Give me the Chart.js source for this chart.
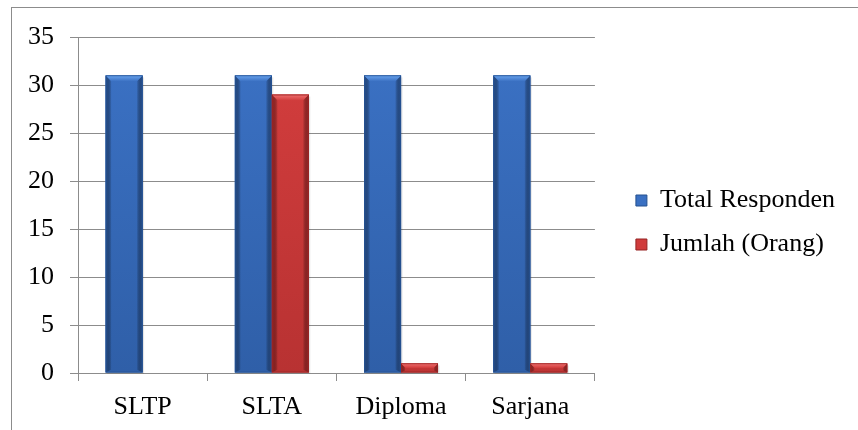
<!DOCTYPE html>
<html>
<head>
<meta charset="utf-8">
<script src="https://cdn.jsdelivr.net/npm/chart.js@4.4.1/dist/chart.umd.min.js"></script>
<style>
  html, body { margin: 0; padding: 0; background: #ffffff; }
  #wrap { position: relative; width: 858px; height: 430px; overflow: hidden; }
  #frame { position: absolute; left: 11px; top: 7px; width: 900px; height: 500px; border: 1px solid #8c8c8c; box-sizing: border-box; }
  canvas { position: absolute; left: 0; top: 0; }
</style>
</head>
<body>
<div id="wrap">
  <div id="frame"></div>
  <canvas id="chart" width="858" height="430"></canvas>
</div>
<script>
// Education levels and respondent counts
const categories = ['SLTP', 'SLTA', 'Diploma', 'Sarjana'];
const totalResponden = [31, 31, 31, 31];
const jumlahOrang = [0, 29, 1, 1];
const yTicks = [0, 5, 10, 15, 20, 25, 30, 35];

const FONT = "'Liberation Serif', 'Times New Roman', serif";

const palette = {
  blue: { main: '#3a70c2', light: '#6aa4ee', dark: '#2a5596', low: '#2f5fa8', edge: '#24508f' },
  red:  { main: '#d03c3c', light: '#f07070', dark: '#a52828', low: '#b83232', edge: '#952323' }
};

// Empty layout boxes: a gap between plot and legend, and extra room above the plot
function spacer(position, size) {
  return {
    position, weight: 500, fullSize: false, options: {},
    width: 0, height: 0, left: 0, top: 0, right: 0, bottom: 0,
    isHorizontal() { return position === 'top' || position === 'bottom'; },
    update(maxWidth, maxHeight) {
      if (this.isHorizontal()) { this.width = maxWidth; this.height = size; }
      else { this.width = size; this.height = maxHeight; }
    },
    draw() {}
  };
}
const spacers = {
  id: 'spacers',
  beforeInit(chart) {
    Chart.layouts.addBox(chart, spacer('right', 23));
    Chart.layouts.addBox(chart, spacer('top', 22));
  }
};

// Bevelled bar faces drawn over each bar element the library lays out
const bevelBars = {
  id: 'bevelBars',
  afterDatasetsDraw(chart) {
    const ctx = chart.ctx;
    chart.data.datasets.forEach((ds, di) => {
      const meta = chart.getDatasetMeta(di);
      const c = palette[ds.tone];
      meta.data.forEach((bar) => {
        const p = bar.getProps(['x', 'y', 'base', 'width'], true);
        const h = p.base - p.y;
        if (h < 0.5) return;
        const x0 = p.x - p.width / 2, x1 = p.x + p.width / 2;
        const bv = Math.min(6, h / 2, p.width / 4);
        ctx.save();
        // soft shadow
        ctx.fillStyle = 'rgba(0,0,0,0.10)';
        ctx.fillRect(x0 + 1.5, p.y + 2, p.width, h - 1);
        // body: vertical shading
        const vg = ctx.createLinearGradient(0, p.y, 0, p.base);
        vg.addColorStop(0, c.main);
        vg.addColorStop(1, c.low);
        ctx.fillStyle = vg;
        ctx.fillRect(x0, p.y, p.width, h);
        // side bevels
        const lg = ctx.createLinearGradient(x0, 0, x0 + bv, 0);
        lg.addColorStop(0, c.dark); lg.addColorStop(1, 'rgba(0,0,0,0)');
        ctx.fillStyle = lg;
        ctx.beginPath();
        ctx.moveTo(x0, p.y); ctx.lineTo(x0 + bv, p.y + bv);
        ctx.lineTo(x0 + bv, p.base - bv * 0.5); ctx.lineTo(x0, p.base);
        ctx.closePath(); ctx.fill();
        const rg = ctx.createLinearGradient(x1, 0, x1 - bv, 0);
        rg.addColorStop(0, c.dark); rg.addColorStop(1, 'rgba(0,0,0,0)');
        ctx.fillStyle = rg;
        ctx.beginPath();
        ctx.moveTo(x1, p.y); ctx.lineTo(x1 - bv, p.y + bv);
        ctx.lineTo(x1 - bv, p.base - bv * 0.5); ctx.lineTo(x1, p.base);
        ctx.closePath(); ctx.fill();
        // top bevel
        const tg = ctx.createLinearGradient(0, p.y, 0, p.y + bv);
        tg.addColorStop(0, c.light);
        tg.addColorStop(1, c.main);
        ctx.fillStyle = tg;
        ctx.beginPath();
        ctx.moveTo(x0, p.y);
        ctx.lineTo(x1, p.y);
        ctx.lineTo(x1 - bv, p.y + bv);
        ctx.lineTo(x0 + bv, p.y + bv);
        ctx.closePath();
        ctx.fill();
        // outline
        ctx.strokeStyle = c.edge;
        ctx.lineWidth = 0.8;
        ctx.strokeRect(x0 + 0.4, p.y + 0.4, p.width - 0.8, h - 0.8);
        ctx.restore();
      });
    });
  }
};

new Chart(document.getElementById('chart'), {
  type: 'bar',
  data: {
    labels: categories,
    datasets: [
      { label: 'Total Responden', data: totalResponden, tone: 'blue',
        backgroundColor: palette.blue.main, borderWidth: 0 },
      { label: 'Jumlah (Orang)', data: jumlahOrang, tone: 'red',
        backgroundColor: palette.red.main, borderWidth: 0 }
    ]
  },
  options: {
    responsive: false,
    animation: false,
    layout: { padding: { left: 0, right: 13, top: 15, bottom: 0 } },
    datasets: { bar: { categoryPercentage: 0.572, barPercentage: 1.0 } },
    plugins: {
      tooltip: { enabled: false },
      legend: {
        position: 'right',
        align: 'center',
        maxWidth: 300,
        labels: {
          color: '#000',
          font: { family: FONT, size: 26 },
          boxWidth: 11,
          boxHeight: 11,
          padding: 18,
          generateLabels(chart) {
            return chart.data.datasets.map((ds, i) => ({
              text: ds.label,
              fillStyle: palette[ds.tone].main,
              strokeStyle: palette[ds.tone].edge,
              lineWidth: 1,
              datasetIndex: i
            }));
          }
        }
      }
    },
    scales: {
      x: {
        offset: true,
        grid: { display: true, offset: true, drawOnChartArea: false, drawTicks: true,
                tickLength: 8, color: '#8c8c8c' },
        border: { display: true, color: '#8c8c8c' },
        ticks: { color: '#000', font: { family: FONT, size: 26 }, padding: 11 },
        afterFit(scale) { scale.height = 57; }
      },
      y: {
        min: 0, max: 35,
        afterBuildTicks(scale) { scale.ticks = yTicks.map(v => ({ value: v })); },
        grid: { color: '#8c8c8c', tickLength: 8 },
        border: { display: true, color: '#8c8c8c' },
        ticks: { color: '#000', font: { family: FONT, size: 26 }, padding: 16 },
        afterFit(scale) { scale.width = 78; }
      }
    }
  },
  plugins: [spacers, bevelBars]
});
</script>
</body>
</html>
